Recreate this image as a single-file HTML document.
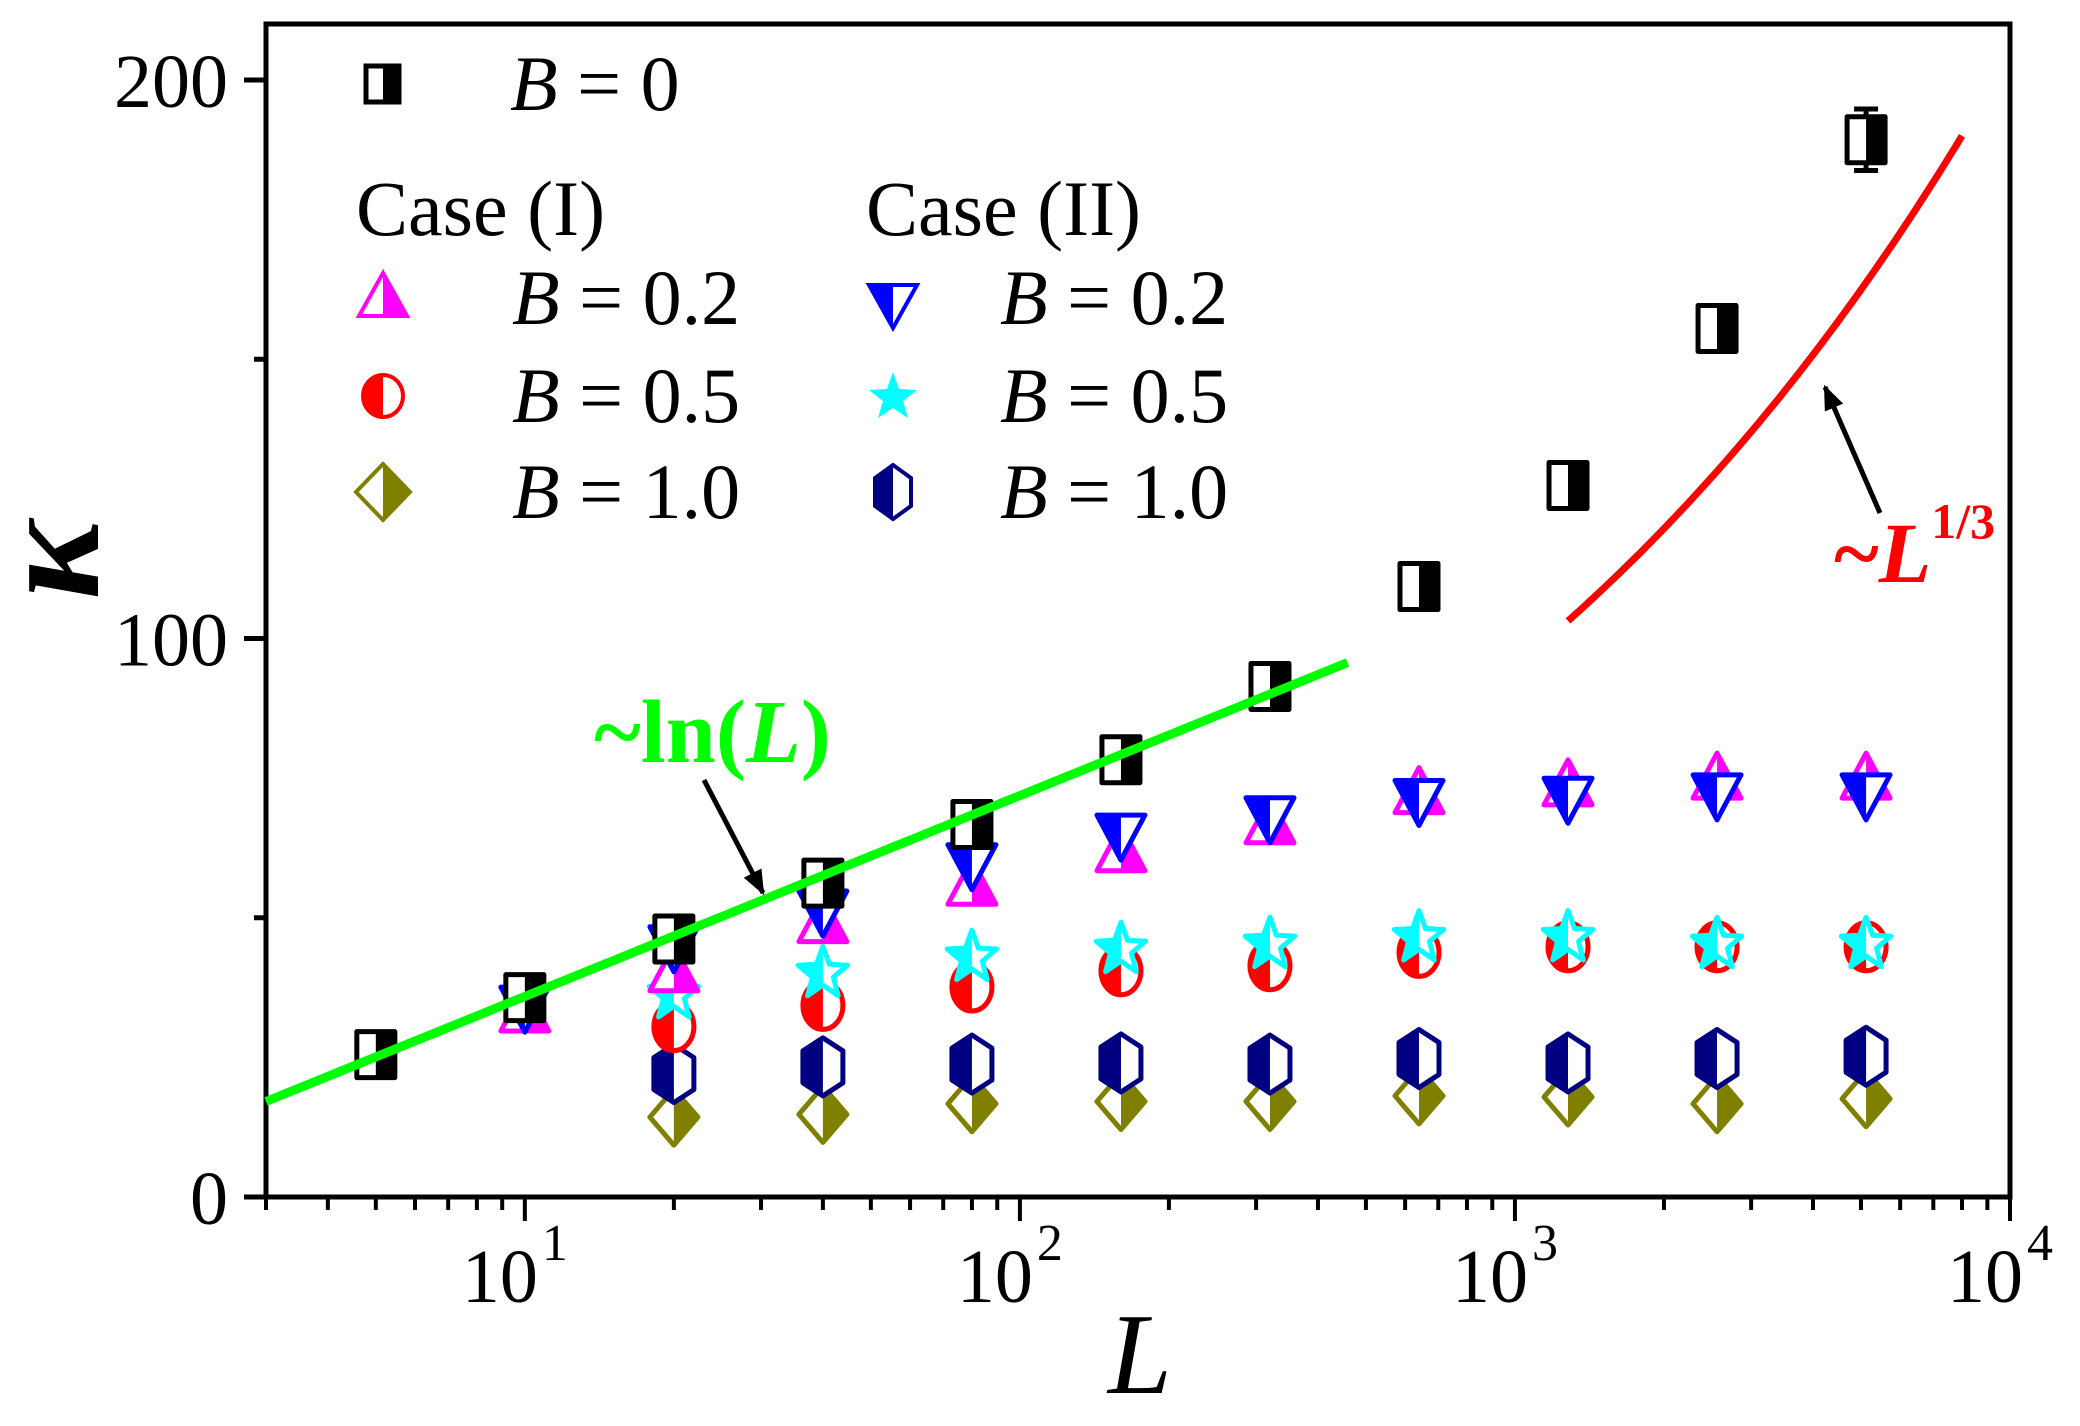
<!DOCTYPE html>
<html><head><meta charset="utf-8"><style>
html,body{margin:0;padding:0;background:#fff;}
svg{display:block;font-family:"Liberation Serif",serif;}
</style></head><body>
<svg id="chart" width="2080" height="1426" viewBox="0 0 2080 1426" xmlns="http://www.w3.org/2000/svg">
<defs>
<clipPath id="clipL" clipPathUnits="userSpaceOnUse"><rect x="-60" y="-60" width="60" height="120"/></clipPath>
<clipPath id="clipR" clipPathUnits="userSpaceOnUse"><rect x="0" y="-60" width="60" height="120"/></clipPath>
<marker id="arrow" viewBox="0 0 10 10" refX="9" refY="5" markerWidth="5" markerHeight="5" orient="auto"><path d="M0,1 L10,5 L0,9 Z" fill="#000"/></marker>
</defs>
<g id="plot"></g>
</svg>
<script>
const xValues = [5,10,20,40,80,160,320,640,1280,2560,5120];
const kB0 = [25.5,35.7,46.2,56.2,66.7,78.3,91.4,109.3,127.4,155.5,189.3];
const kI02 = [null,33.3,40.5,49.3,56,62,67,72.4,73.8,75,75];
const kII02 = [null,34,44.8,51.2,59.5,64.8,67.9,71,71.4,72,72];
const kI05 = [null,null,30.5,34.3,37.6,40.5,41.4,43.8,44.8,44.8,44.8];
const kII05 = [null,null,36.2,40,42.9,44.3,45.2,46.4,46.4,45.2,45.2];
const kI10 = [null,null,14.3,14.8,16.7,17.1,17.1,18.1,17.9,16.7,17.6];
const kII10 = [null,null,22.1,23.3,23.8,24,23.8,24.8,24,24.8,25.2];
const errB0 = [1,1,1,1,1.2,1.5,1.5,1.5,1.5,2,5.5];
const yTicks = [0,100,200];
const yMinor = [50,150];
const xDecades = [1,2,3,4];
const lnFit = {a:0, slope:35.97, from:3, to:459};
const powFit = {c:9.5, from:1280, to:8000};

const X0=266, X1=2010, Y0=1197, YT=24;
const LMIN=Math.log10(3), LMAX=4;
function sx(L){return X0+(Math.log10(L)-LMIN)/(LMAX-LMIN)*(X1-X0);}
function sy(k){return Y0-k*5.585;}
const NS="http://www.w3.org/2000/svg";
const plot=document.getElementById('plot');
function el(tag,attrs,parent){const e=document.createElementNS(NS,tag);for(const k in attrs)e.setAttribute(k,attrs[k]);(parent||plot).appendChild(e);return e;}

function shapeD(type){
  switch(type){
    case 'square': return 'M-19,-23 L19,-23 L19,23 L-19,23 Z';
    case 'up': return 'M0,-25 L24,20 L-24,20 Z';
    case 'down': return 'M0,25 L24,-20 L-24,-20 Z';
    case 'circle': return 'M-20,0 A20,24 0 1 0 20,0 A20,24 0 1 0 -20,0 Z';
    case 'diamond': return 'M0,-28 L24,0 L0,28 L-24,0 Z';
    case 'hex': return 'M0,-29 L20,-16 L20,16 L0,29 L-20,16 L-20,-16 Z';
    case 'star': {let d='';for(let i=0;i<10;i++){const r=i%2?11:26;const a=-Math.PI/2+i*Math.PI/5;d+=(i?'L':'M')+(r*Math.cos(a)).toFixed(1)+','+(r*Math.sin(a)*1.05).toFixed(1);}return d+'Z';}
  }
}
function marker(parent,type,color,fillSide,cx,cy,name){
  const g=el('g',{transform:`translate(${cx},${cy})`},parent);
  
  
  const d=shapeD(type);
  el('path',{d:d,fill:'#fff',stroke:'none'},g);
  if(fillSide) el('path',{d:d,fill:color,'clip-path':`url(#clip${fillSide})`},g);
  el('path',{d:d,fill:'none',stroke:color,'stroke-width':5,'stroke-linejoin':'round'},g);
  return g;
}

const frame=el('rect',{x:X0,y:YT,width:X1-X0,height:Y0-YT,fill:'none',stroke:'#000','stroke-width':5});



yTicks.forEach(v=>{
  const t=el('line',{x1:X0-22,x2:X0,y1:sy(v),y2:sy(v),stroke:'#000','stroke-width':5});
  
  
  const lb=el('text',{x:X0-38,y:sy(v)+27,'text-anchor':'end','font-size':76});
  lb.textContent=String(v);
  
  
});
yMinor.forEach(v=>{
  const t=el('line',{x1:X0-12,x2:X0,y1:sy(v),y2:sy(v),stroke:'#000','stroke-width':5});
  
  
});
for(let e=0;e<=3;e++){
  for(let m=1;m<10;m++){
    const L=m*Math.pow(10,e);
    if(L<3||L>10000)continue;
    const major=(m===1);
    const t=el('line',{x1:sx(L),x2:sx(L),y1:Y0,y2:Y0+(major?24:13),stroke:'#000','stroke-width':4});
    
    
  }
}
{const t=el('line',{x1:sx(10000),x2:sx(10000),y1:Y0,y2:Y0+24,stroke:'#000','stroke-width':4});

}
xDecades.forEach(p=>{
  const lb=el('text',{x:sx(Math.pow(10,p))-10,y:Y0+105,'text-anchor':'middle','font-size':76});
  
  
  lb.textContent='10';
  const sp=el('tspan',{dx:4,dy:-42,'font-size':52},lb);
  sp.textContent=String(p);
});

const xt=el('text',{x:1140,y:1393,'text-anchor':'middle','font-size':115,'font-style':'italic'});
xt.textContent='L';


const yt=el('text',{x:0,y:0,'text-anchor':'middle','font-size':150,'font-style':'italic','font-weight':'bold',transform:'translate(98,560) rotate(-90)'});
yt.textContent='κ';



const series=[
  {name:'series-case1-b1.0',data:kI10,type:'diamond',color:'#808000',side:'R'},
  {name:'series-case2-b1.0',data:kII10,type:'hex',color:'#000080',side:'L'},
  {name:'series-case1-b0.5',data:kI05,type:'circle',color:'#ff0000',side:'L'},
  {name:'series-case2-b0.5',data:kII05,type:'star',color:'#00ffff',side:'L'},
  {name:'series-case1-b0.2',data:kI02,type:'up',color:'#ff00ff',side:'R'},
  {name:'series-case2-b0.2',data:kII02,type:'down',color:'#0000ff',side:'L'},
  {name:'series-b0',data:kB0,type:'square',color:'#000000',side:'R',err:errB0}
];
series.forEach(s=>{
  const g=el('g',{});
  
  
  s.data.forEach((v,i)=>{
    if(v==null)return;
    const cx=sx(xValues[i]),cy=sy(v);
    if(s.err){
      const e=s.err[i]*5.585;
      if(e>24){
        const eb=el('path',{d:`M${cx},${cy-e}V${cy-23}M${cx},${cy+23}V${cy+e}M${cx-12},${cy-e}H${cx+12}M${cx-12},${cy+e}H${cx+12}`,stroke:'#000','stroke-width':5,fill:'none'},g);
        
        
      }
    }
    marker(g,s.type,s.color,s.side,cx,cy,'point');
  });
});

let d='';
for(let i=0;i<=40;i++){const L=lnFit.from*Math.pow(lnFit.to/lnFit.from,i/40);const k=17.1+lnFit.slope*(Math.log10(L)-Math.log10(3));d+=(i?'L':'M')+sx(L).toFixed(1)+','+sy(k).toFixed(1);}
const gl=el('path',{d:d,stroke:'#00ff00','stroke-width':9,fill:'none'});


d='';
for(let i=0;i<=60;i++){const L=powFit.from*Math.pow(powFit.to/powFit.from,i/60);const k=powFit.c*Math.cbrt(L);d+=(i?'L':'M')+sx(L).toFixed(1)+','+sy(k).toFixed(1);}
const rl=el('path',{d:d,stroke:'#ff0000','stroke-width':7,fill:'none'});



const a1=el('line',{x1:704,x2:763,y1:780,y2:893,stroke:'#000','stroke-width':5,'marker-end':'url(#arrow)'});


const a2=el('line',{x1:1880,x2:1825,y1:513,y2:387,stroke:'#000','stroke-width':5,'marker-end':'url(#arrow)'});


</script>
<svg style="position:absolute;left:0;top:0" width="2080" height="1426">
<g font-family="Liberation Serif, serif">
<text x="594" y="762" font-size="90" font-weight="bold" fill="#00ff00">~ln(<tspan font-style="italic">L</tspan>)</text>
<text x="1834" y="582" font-size="86" font-weight="bold" fill="#ff0000">~<tspan font-style="italic">L</tspan><tspan font-size="50" dy="-44">1/3</tspan></text>
<g font-size="78">
<g><rect x="366" y="66" width="33" height="36" fill="#fff" stroke="#000" stroke-width="5"/><rect x="383" y="66" width="16" height="36" fill="#000"/><text x="510" y="110"><tspan font-style="italic">B</tspan> = 0</text></g>
<text x="356" y="235">Case (I)</text>
<text x="866" y="235">Case (II)</text>
<g><path d="M383,273 L407,316 L359,316 Z" fill="#fff" stroke="#ff00ff" stroke-width="4"/><path d="M383,273 L407,316 L383,316 Z" fill="#ff00ff"/><text x="512" y="324"><tspan font-style="italic">B</tspan> = 0.2</text></g>
<g><ellipse cx="383" cy="396" rx="20" ry="21" fill="#fff" stroke="#ff0000" stroke-width="4"/><path d="M383,375 A20,21 0 0 0 383,417 Z" fill="#ff0000"/><text x="512" y="422"><tspan font-style="italic">B</tspan> = 0.5</text></g>
<g><path d="M383,464 L410,492 L383,520 L356,492 Z" fill="#fff" stroke="#808000" stroke-width="4"/><path d="M383,464 L410,492 L383,520 Z" fill="#808000"/><text x="512" y="518"><tspan font-style="italic">B</tspan> = 1.0</text></g>
<g><path d="M893,328 L917,285 L869,285 Z" fill="#fff" stroke="#0000ff" stroke-width="4"/><path d="M893,328 L869,285 L893,285 Z" fill="#0000ff"/><text x="1000" y="324"><tspan font-style="italic">B</tspan> = 0.2</text></g>
<g><path d="M893,372 L899,389 L917,390 L903,401 L908,418 L893,408 L878,418 L883,401 L869,390 L887,389 Z" fill="#00ffff"/><text x="1000" y="422"><tspan font-style="italic">B</tspan> = 0.5</text></g>
<g><path d="M893,465 L911,478 L911,506 L893,519 L875,506 L875,478 Z" fill="#fff" stroke="#000080" stroke-width="4"/><path d="M893,465 L893,519 L875,506 L875,478 Z" fill="#000080"/><text x="1000" y="518"><tspan font-style="italic">B</tspan> = 1.0</text></g>
</g>
</g>
</svg>
</body></html>
